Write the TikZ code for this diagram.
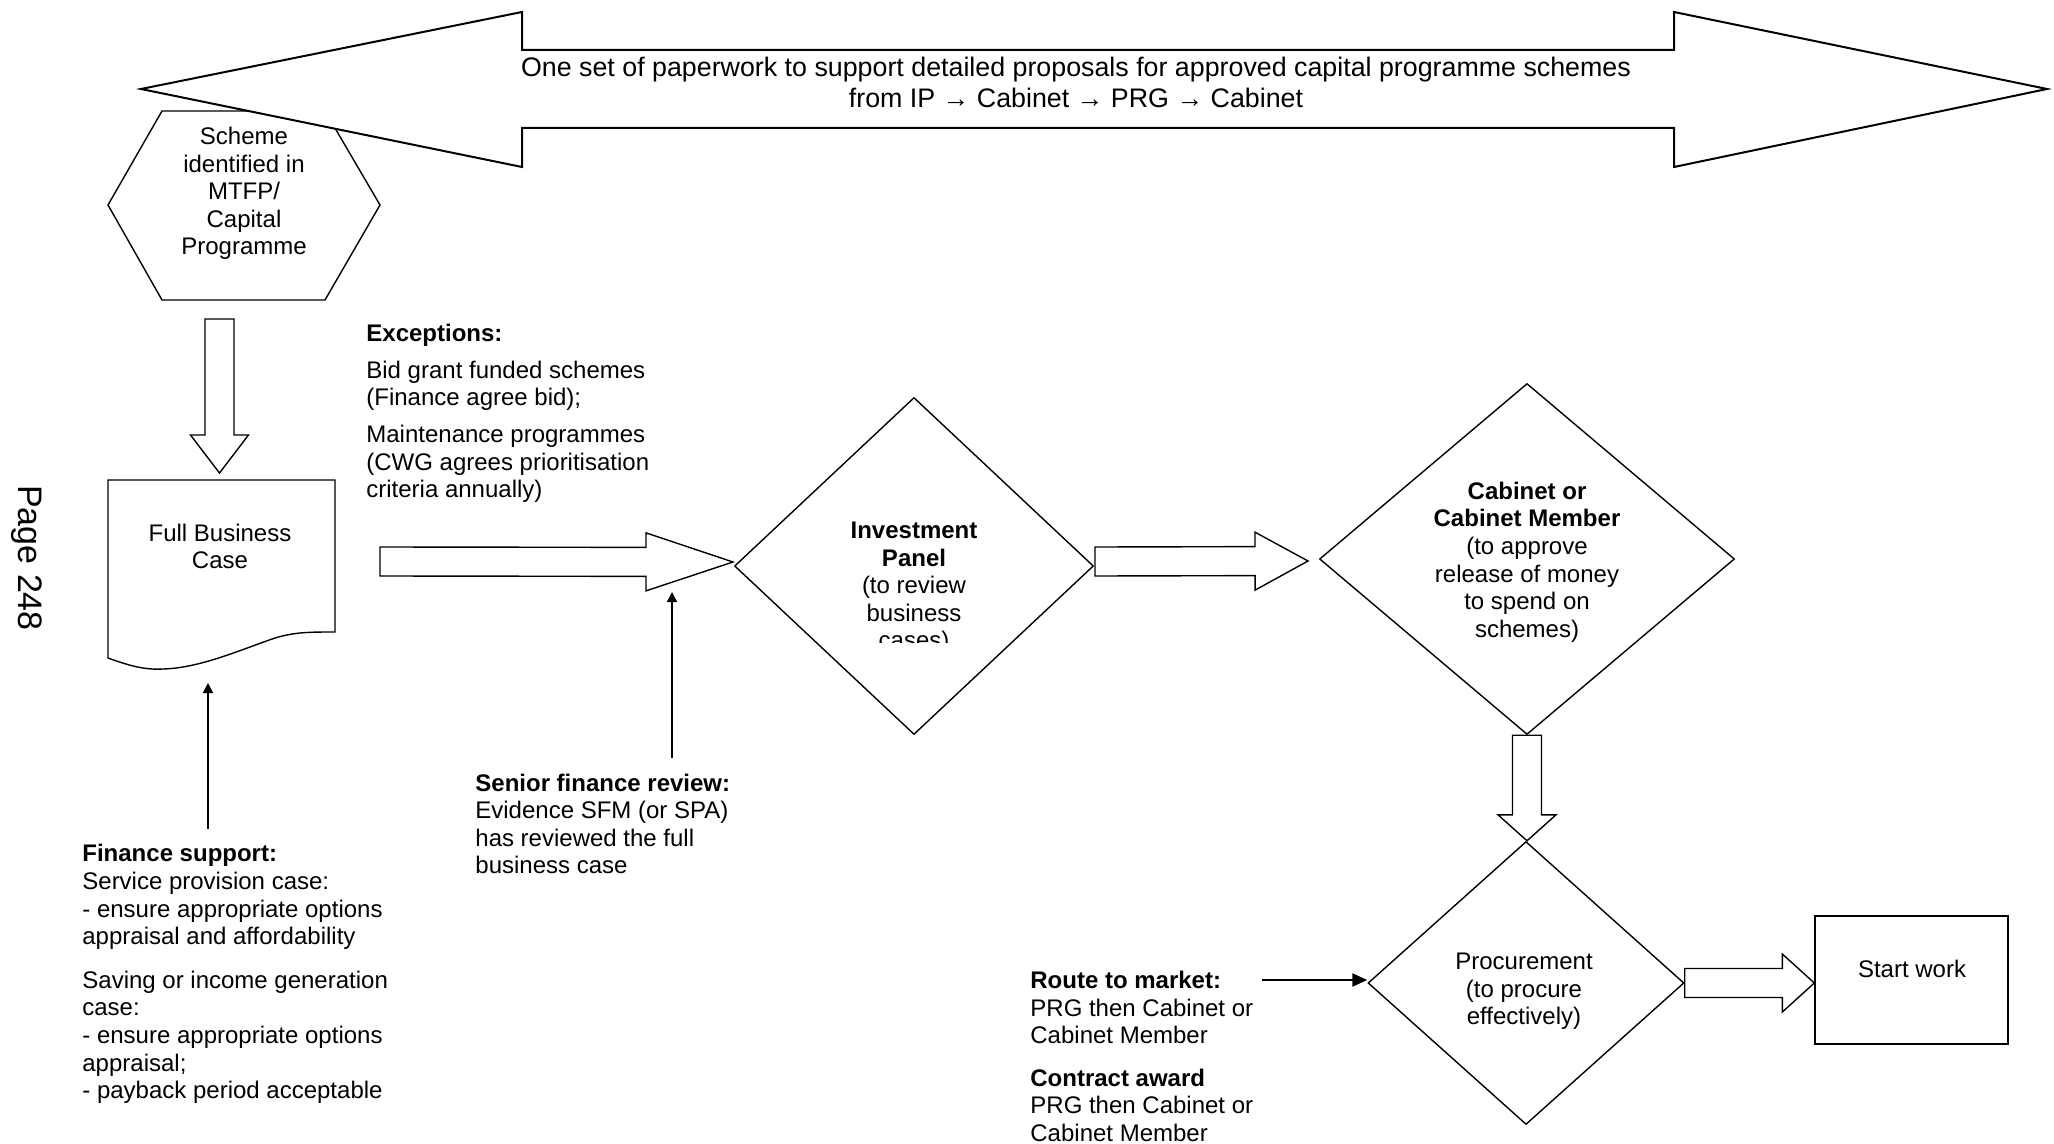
\documentclass[tikz,border=0pt]{standalone}
\usepackage{fontspec}
\setmainfont{Liberation Sans}
\usetikzlibrary{calc, shapes.geometric, arrows.meta}

% hollow block arrow: tail, tip, head length
\newcommand{\blockarrow}[3]{%
  \coordinate (hb) at ($(#2)!#3!(#1)$);
  \draw[outline] ($(#1)!7.25pt!90:(#2)$) -- ($(hb)!7.25pt!90:(#2)$)
    -- ($(hb)!14.5pt!90:(#2)$) -- (#2) -- ($(hb)!14.5pt!-90:(#2)$)
    -- ($(hb)!7.25pt!-90:(#2)$) -- ($(#1)!7.25pt!-90:(#2)$) -- cycle;
}

\begin{document}
\begin{tikzpicture}[
    x = 0.5pt, y = -0.5pt,
    every node/.style = {font = \fontsize{12}{13.8}\selectfont, align = center, inner sep = 0pt},
    outline/.style = {draw, line width = 0.7pt, fill = white},
    decision/.style = {outline, diamond},
    note/.style = {align = left, anchor = west},
    thin arrow/.style = {line width = 0.7pt, -{Triangle[length = 5pt, width = 5pt]}}
  ]
  \useasboundingbox (0,0) rectangle (2054,1144);

  % scheme hexagon, partly under the big arrow
  \draw[outline] (162,111) -- (325,111) -- (380,205) -- (325,300)
    -- (162,300) -- (108,205) -- cycle;
  \node (scheme) at (244,193.5) {Scheme\\identified in\\MTFP/\\Capital\\Programme};

  % paperwork double arrow
  \draw[outline, line width = 1pt] (141,89) -- (522,12) -- (522,50) -- (1674,50)
    -- (1674,12) -- (2047,89) -- (1674,167) -- (1674,128) -- (522,128)
    -- (522,167) -- cycle;
  \node[font = \fontsize{13.4}{15.6}\selectfont] (paper) at (1076,82.5) {One set of paperwork to support detailed proposals for approved capital programme schemes\\from IP → Cabinet → PRG → Cabinet};

  % full business case document
  \draw[outline] (108,480) -- (335,480) -- (335,632)
    .. controls (310,632) and (295,632) .. (275,638)
    .. controls (240,650) and (200,668) .. (163,669)
    .. controls (145,670) and (130,666) .. (108,658) -- cycle;
  \node (fbc) at (220,546.5) {Full Business\\Case};

  % decisions
  \node[decision, minimum width = 179.5pt, minimum height = 168.5pt] (ip) at (914,566) {};
  \begin{scope}
    \clip (735,380) rectangle (1094,642);
    \node (iptext) at (914,588) {{\bfseries Investment}\\{\bfseries Panel}\\(to review\\business\\cases)};
  \end{scope}
  \node[decision, minimum width = 207.5pt, minimum height = 175.5pt] (cab) at (1527,559) {};
  \node (cabtext) at (1527,562) {{\bfseries Cabinet or}\\{\bfseries Cabinet Member}\\(to approve\\release of money\\to spend on\\schemes)};
  \node[decision, minimum width = 158pt, minimum height = 141.5pt] (proc) at (1526,983) {};
  \node (proctext) at (1524,991.5) {Procurement\\(to procure\\effectively)};

  \node[outline, minimum width = 96.5pt, minimum height = 64pt] (start) at (1911.5,980) {};
  \node (starttext) at (1912,969) {Start work};

  % block arrows
  \coordinate (v1) at (219.5,319);   \coordinate (v1tip) at (219.5,473);
  \coordinate (a1) at (380,561.5);   \coordinate (a1tip) at (733,562);
  \coordinate (a2) at (1095,561.5);  \coordinate (a2tip) at (1308,561);
  \coordinate (v2tip) at (cab.south |- proc.north);
  \coordinate (a3tip) at (proc.east -| start.west);
  \blockarrow{v1}{v1tip}{19pt}
  \blockarrow{a1}{a1tip}{43.5pt}
  \blockarrow{a2}{a2tip}{26.5pt}
  \blockarrow{cab.south}{v2tip}{13pt}
  \blockarrow{proc.east}{a3tip}{16pt}

  % notes
  \node[note] (exc) at (366,413.5) {{\bfseries Exceptions:}\\[4.5pt]Bid grant funded schemes\\(Finance agree bid);\\[4.5pt]Maintenance programmes\\(CWG agrees prioritisation\\criteria annually)};
  \node[note] (sfr) at (475,824) {{\bfseries Senior finance review:}\\Evidence SFM (or SPA)\\has reviewed the full\\business case};
  \node[note] (fin) at (82,974) {{\bfseries Finance support:}\\Service provision case:\\- ensure appropriate options\\appraisal and affordability\\[8pt]Saving or income generation\\case:\\- ensure appropriate options\\appraisal;\\- payback period acceptable};
  \node[note] (rtm) at (1030,1056.5) {{\bfseries Route to market:}\\PRG then Cabinet or\\Cabinet Member\\[7.5pt]{\bfseries Contract award}\\PRG then Cabinet or\\Cabinet Member};
  \node[rotate = -90, font = \fontsize{17}{20}\selectfont] (page) at (27,558) {Page 248};

  % thin arrows
  \coordinate (fstail) at (208,829);   \coordinate (fstip) at (208,683);
  \coordinate (sftail) at (672,758);   \coordinate (sftip) at (672,592);
  \coordinate (rtmtail) at (1262,980);
  \draw[thin arrow] (fstail) -- (fstip);
  \draw[thin arrow] (sftail) -- (sftip);
  \draw[thin arrow, line width = 1.1pt, -{Triangle[length = 7.5pt, width = 6.5pt]}]
    (rtmtail) -- (rtmtail -| proc.west);
\end{tikzpicture}
\end{document}
